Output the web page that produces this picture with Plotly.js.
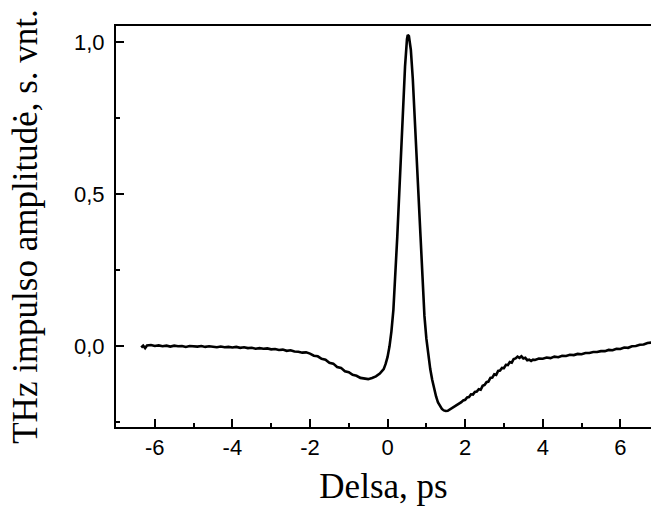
<!DOCTYPE html>
<html>
<head>
<meta charset="utf-8">
<script src="https://cdn.plot.ly/plotly-3.0.1.min.js"></script>
<style>
html,body{margin:0;padding:0;overflow:hidden;background:#fff;}
#chart{width:651px;height:514px;}
</style>
</head>
<body>
<div id="chart"></div>
<script>
// Delay (ps)
const delay = [
-6.35,-6.3,-6.25,-6.2,-6.1,-6.0,-5.9,-5.8,-5.7,-5.6,-5.5,-5.4,-5.3,-5.2,-5.1,-5.0,
-4.9,-4.8,-4.7,-4.6,-4.5,-4.4,-4.3,-4.2,-4.1,-4.0,-3.9,-3.8,-3.7,-3.6,-3.5,-3.4,
-3.3,-3.2,-3.1,-3.0,-2.9,-2.8,-2.7,-2.6,-2.5,-2.4,-2.3,-2.2,-2.1,-2.0,-1.9,-1.8,
-1.7,-1.6,-1.5,-1.4,-1.3,-1.2,-1.1,-1.0,-0.9,-0.8,-0.7,-0.6,-0.5,-0.4,-0.3,-0.2,
-0.1,-0.05,0.0,0.05,0.1,0.15,0.2,0.25,0.3,0.35,0.4,0.45,0.5,0.52,0.55,0.6,0.65,
0.7,0.75,0.8,0.85,0.9,0.95,1.0,1.05,1.1,1.15,1.2,1.25,1.3,1.35,1.4,1.45,1.5,1.55,
1.6,1.65,1.7,1.75,1.8,1.85,1.9,1.95,2.0,2.05,2.1,2.15,2.2,2.25,2.3,2.35,2.4,2.45,
2.5,2.55,2.6,2.65,2.7,2.75,2.8,2.85,2.9,2.95,3.0,3.05,3.1,3.15,3.2,3.25,3.3,3.35,
3.4,3.45,3.5,3.55,3.6,3.65,3.7,3.75,3.8,3.9,4.0,4.1,4.2,4.3,4.4,4.5,
4.6,4.7,4.8,4.9,5.0,5.1,5.2,5.3,5.4,5.5,5.6,5.7,5.8,5.9,6.0,6.1,6.2,6.3,6.4,6.5,6.6,6.7,6.8,6.9
];
// THz pulse amplitude (a.u.)
const amplitude = [
-0.004,0.002,-0.006,0.003,0.004,0.001,0.003,0.000,0.002,-0.001,0.002,0.000,0.001,-0.002,0.001,0.000,
-0.001,0.001,-0.002,0.000,-0.001,-0.003,-0.001,-0.003,-0.002,-0.004,-0.002,-0.005,-0.003,-0.006,-0.005,-0.008,
-0.006,-0.008,-0.007,-0.010,-0.009,-0.012,-0.011,-0.015,-0.013,-0.017,-0.018,-0.021,-0.020,-0.024,-0.031,-0.033,
-0.041,-0.044,-0.054,-0.057,-0.068,-0.071,-0.082,-0.085,-0.094,-0.097,-0.104,-0.105,-0.108,-0.104,-0.099,-0.090,
-0.075,-0.058,-0.035,0.000,0.050,0.120,0.230,0.360,0.500,0.650,0.790,0.920,1.010,1.024,1.020,0.975,0.880,
0.760,0.630,0.490,0.360,0.230,0.100,0.025,-0.030,-0.075,-0.110,-0.140,-0.165,-0.185,-0.198,-0.206,-0.211,-0.213,-0.212,
-0.208,-0.203,-0.201,-0.196,-0.193,-0.188,-0.184,-0.178,-0.176,-0.168,-0.167,-0.158,-0.159,-0.150,-0.149,-0.141,-0.143,-0.130,
-0.127,-0.118,-0.116,-0.104,-0.103,-0.092,-0.094,-0.081,-0.080,-0.071,-0.072,-0.061,-0.062,-0.052,-0.054,-0.042,-0.040,-0.034,
-0.038,-0.033,-0.040,-0.038,-0.046,-0.044,-0.048,-0.044,-0.045,-0.040,-0.041,-0.037,-0.039,-0.034,-0.036,-0.031,
-0.032,-0.028,-0.029,-0.025,-0.026,-0.022,-0.022,-0.019,-0.019,-0.016,-0.016,-0.012,-0.013,-0.008,-0.009,-0.004,-0.005,0.000,0.001,0.005,0.006,0.011,0.012,0.016
];
const yTickVals = [0, 0.5, 1.0];
const yTickText = ['0,0', '0,5', '1,0'];
const xTickVals = [-6, -4, -2, 0, 2, 4, 6];
const xTickText = ['-6', '-4', '-2', '0', '2', '4', '6'];

const trace = {
  x: delay, y: amplitude, type: 'scatter', mode: 'lines',
  line: {color: '#000', width: 2.6},
  hoverinfo: 'skip'
};

const tickFont = {family: 'Liberation Sans, Arial, sans-serif', size: 22, color: '#000'};
const titleFont = {family: 'Liberation Serif, Times New Roman, serif', size: 35, color: '#000'};

const layout = {
  width: 651, height: 514,
  margin: {l: 116, r: 0, t: 26, b: 87, pad: 0},
  paper_bgcolor: '#fff', plot_bgcolor: '#fff',
  showlegend: false,
  xaxis: {
    range: [-7, 6.79],
    tickmode: 'array', tickvals: xTickVals, ticktext: xTickText,
    ticks: 'inside', ticklen: 8, tickwidth: 2, tickcolor: '#000',
    minor: {dtick: 1, tick0: 0, ticks: 'inside', ticklen: 4, tickwidth: 2, tickcolor: '#000', showgrid: false},
    showline: true, linewidth: 2, linecolor: '#000', mirror: true,
    showgrid: false, zeroline: false,
    tickfont: tickFont,
    title: {text: 'Delsa, ps', font: titleFont, standoff: 14}
  },
  yaxis: {
    range: [-0.2655, 1.0536],
    tickmode: 'array', tickvals: yTickVals, ticktext: yTickText,
    ticks: 'inside', ticklen: 8, tickwidth: 2, tickcolor: '#000',
    minor: {dtick: 0.25, tick0: 0, ticks: 'inside', ticklen: 4, tickwidth: 2, tickcolor: '#000', showgrid: false},
    showline: true, linewidth: 2, linecolor: '#000', mirror: false,
    showgrid: false, zeroline: false,
    tickfont: tickFont, ticklabelstandoff: 5,
    title: {text: 'THz impulso amplitudė, s. vnt.', font: titleFont, standoff: 26}
  }
};

Plotly.newPlot('chart', [trace], layout, {displayModeBar: false, staticPlot: true});
</script>
</body>
</html>
